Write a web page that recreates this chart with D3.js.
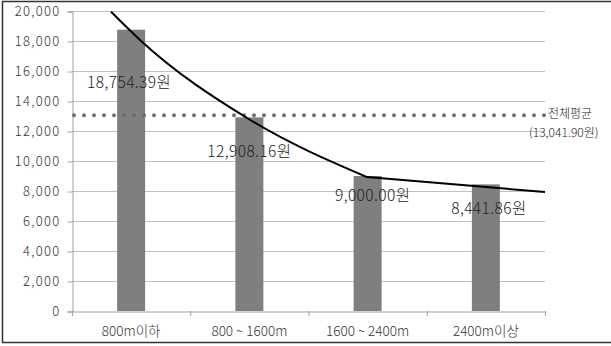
<!DOCTYPE html>
<html><head><meta charset="utf-8">
<script src="https://cdn.jsdelivr.net/npm/d3@7"></script>
<style>body{margin:0;background:#fff}svg{display:block}</style>
</head><body>
<svg id="c" width="611" height="346"></svg>
<script>
const categories = ["800m이하", "800 ~ 1600m", "1600 ~ 2400m", "2400m이상"];
const values = [18754.39, 12908.16, 9000.00, 8441.86];
const valueLabels = ["18,754.39원", "12,908.16원", "9,000.00원", "8,441.86원"];
const yTicks = [0, 2000, 4000, 6000, 8000, 10000, 12000, 14000, 16000, 18000, 20000];
const average = 13041.90;
const averageLabel = ["전체평균", "(13,041.90원)"];
// trend line: position in category units (0 = first category centre) and value
const trendPos = [-0.17, 0.075, 1.005, 1.995, 3.5];
const trendVal = [19950, 18070, 12750, 8930, 7930];

const svg = d3.select("#c");
const font = "'Noto Sans CJK KR', 'Noto Sans', sans-serif";
const L = 72, R = 545, T = 11, B = 311;

svg.append("rect").attr("x", 2.5).attr("y", 1.5).attr("width", 640).attr("height", 341)
  .attr("fill", "none").attr("stroke", "#333").attr("stroke-width", 1.5);

const x = d3.scaleBand().domain(categories).range([L, R]).paddingInner(0).paddingOuter(0);
const xPos = d3.scaleLinear().domain([-0.5, categories.length - 0.5]).range([L, R]);
const y = d3.scaleLinear().domain([0, 20000]).range([B, T]);

// gridlines
svg.append("g").selectAll("line").data(yTicks.filter(d => d > 0)).join("line")
  .attr("x1", L).attr("x2", R).attr("y1", d => y(d) + 0.5).attr("y2", d => y(d) + 0.5)
  .attr("stroke", "#c0c0c0").attr("stroke-width", 1);

// y axis
const ya = svg.append("g").attr("transform", `translate(${L + 0.5},0.5)`)
  .call(d3.axisLeft(y).tickValues(yTicks).tickSize(5).tickPadding(7).tickFormat(d3.format(",")));
ya.select(".domain").attr("stroke", "#a0a0a0");
ya.selectAll(".tick line").attr("stroke", "#a0a0a0");
ya.selectAll("text").attr("font-family", font).attr("font-size", 13).attr("fill", "#333")
  .attr("letter-spacing", 1.3).attr("font-weight", 300);

// x axis
const xa = svg.append("g").attr("transform", `translate(0,${B + 0.5})`)
  .call(d3.axisBottom(x).tickSize(0).tickPadding(15));
xa.select(".domain").attr("stroke", "#a0a0a0");
xa.selectAll("text").attr("font-family", font).attr("font-size", 13.5).attr("fill", "#333")
  .attr("font-weight", 300);
svg.append("g").selectAll("line").data(d3.range(categories.length + 1)).join("line")
  .attr("x1", i => xPos(i - 0.5) + 0.5).attr("x2", i => xPos(i - 0.5) + 0.5)
  .attr("y1", B).attr("y2", B + 5).attr("stroke", "#a0a0a0");

// bars
const bw = 28;
svg.append("g").selectAll("rect").data(values).join("rect")
  .attr("x", (d, i) => x(categories[i]) + x.bandwidth() / 2 - bw / 2)
  .attr("width", bw).attr("y", d => y(d)).attr("height", d => B - y(d))
  .attr("fill", "#7f7f7f");

// average dotted line
svg.append("line").attr("x1", L + 2).attr("x2", R).attr("y1", y(average)).attr("y2", y(average))
  .attr("stroke", "#6e6e6e").attr("stroke-width", 4).attr("stroke-linecap", "round")
  .attr("stroke-dasharray", "0,10");
svg.append("text").attr("x", 548).attr("y", y(average) + 3).text(averageLabel[0])
  .attr("font-family", font).attr("font-size", 12).attr("fill", "#222").attr("font-weight", 300);
svg.append("text").attr("x", 529).attr("y", y(average) + 22).text(averageLabel[1])
  .attr("font-family", font).attr("font-size", 12).attr("fill", "#222").attr("font-weight", 300);

// trend line: smooth convex part, then straight final segment
const pts = trendPos.map((p, i) => [xPos(p), y(trendVal[i])]);
const head = d3.line().curve(d3.curveMonotoneX)(pts.slice(0, 4));
const tail = pts.slice(4).map(p => `L${p[0]},${p[1]}`).join("");
svg.append("path").attr("d", head + tail)
  .attr("fill", "none").attr("stroke", "#000").attr("stroke-width", 2);

// value labels
const labelDX = [-2, 0, 5, 3];
const labelY = [88, 157, 201, 214];
svg.append("g").selectAll("text").data(valueLabels).join("text")
  .attr("x", (d, i) => x(categories[i]) + x.bandwidth() / 2 + labelDX[i])
  .attr("y", (d, i) => labelY[i]).attr("text-anchor", "middle")
  .attr("font-family", font).attr("font-size", 15.5).attr("letter-spacing", 0.4)
  .attr("font-weight", 300).attr("fill", "#222").text(d => d);
</script>
</body></html>
